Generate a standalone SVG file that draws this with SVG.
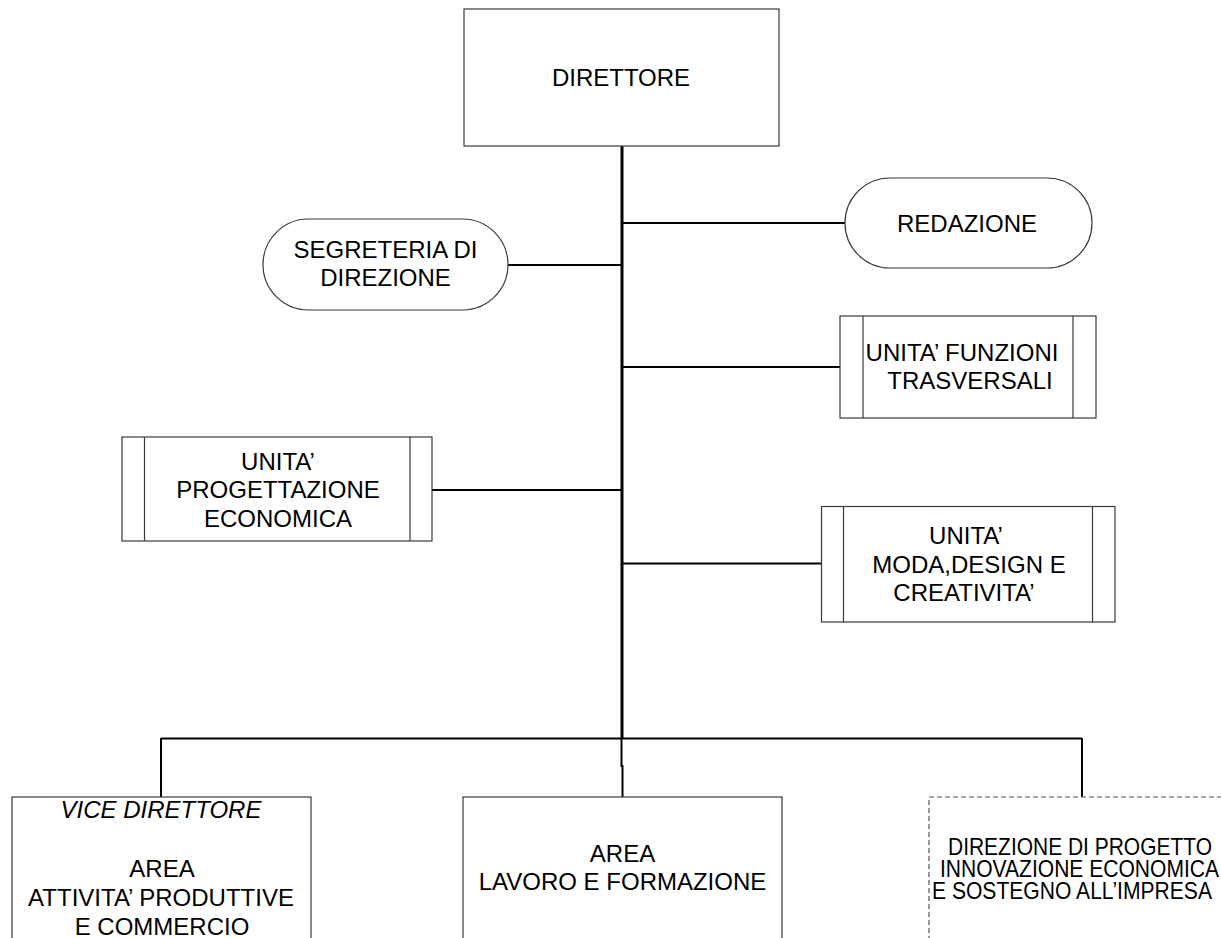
<svg xmlns="http://www.w3.org/2000/svg" width="1221" height="938" viewBox="0 0 1221 938">
<style>
  text { font-family: "Liberation Sans", Arial, sans-serif; font-size: 24px; fill: #000; }
  .c { text-anchor: middle; }
  .box { fill: #fff; stroke: #3a3a3a; stroke-width: 1.2; }
  .dash { fill: #fff; stroke: #555; stroke-width: 1.2; stroke-dasharray: 5 3; }
  .in { stroke: #3a3a3a; stroke-width: 1.2; fill: none; }
  .thin { stroke: #000; stroke-width: 2; fill: none; }
  .thick { stroke: #000; stroke-width: 3; fill: none; }
</style>
<rect width="1221" height="938" fill="#fff"/>

<g id="connectors">
  <line class="thick" x1="622" y1="146" x2="622" y2="739"/>
  <line class="thin" x1="508" y1="265" x2="622" y2="265"/>
  <line class="thin" x1="622" y1="223" x2="845" y2="223"/>
  <line class="thin" x1="622" y1="367" x2="840" y2="367"/>
  <line class="thin" x1="432" y1="490" x2="622" y2="490"/>
  <line class="thin" x1="622" y1="563.5" x2="821" y2="563.5"/>
  <line class="thin" x1="161" y1="738.5" x2="1082" y2="738.5"/>
  <line class="thin" x1="161" y1="738" x2="161" y2="797"/>
  <polyline class="thin" points="621.5,738 621.5,766 622.5,766 622.5,797"/>
  <line class="thin" x1="1082" y1="738" x2="1082" y2="797"/>
</g>

<g id="direttore">
  <rect class="box" x="464" y="9" width="315" height="137"/>
  <text class="c" x="621" y="86">DIRETTORE</text>
</g>

<g id="segreteria">
  <rect class="box" x="263" y="219" width="245" height="91" rx="45.5" ry="45.5"/>
  <text class="c" x="385.5" y="258">SEGRETERIA DI</text>
  <text class="c" x="385.5" y="286">DIREZIONE</text>
</g>

<g id="redazione">
  <rect class="box" x="845" y="178" width="247" height="90" rx="45" ry="45"/>
  <text class="c" x="967" y="231.5">REDAZIONE</text>
</g>

<g id="funzioni">
  <rect class="box" x="840" y="316" width="256" height="102"/>
  <line class="in" x1="863" y1="316" x2="863" y2="418"/>
  <line class="in" x1="1073" y1="316" x2="1073" y2="418"/>
  <text class="c" x="962" y="361">UNITA’ FUNZIONI</text>
  <text class="c" x="970" y="389">TRASVERSALI</text>
</g>

<g id="progettazione">
  <rect class="box" x="122" y="437" width="310" height="104"/>
  <line class="in" x1="144.5" y1="437" x2="144.5" y2="541"/>
  <line class="in" x1="410" y1="437" x2="410" y2="541"/>
  <text class="c" x="278" y="469.5">UNITA’</text>
  <text class="c" x="278" y="498">PROGETTAZIONE</text>
  <text class="c" x="278" y="526.5">ECONOMICA</text>
</g>

<g id="moda">
  <rect class="box" x="821.5" y="506.5" width="293.5" height="115.5"/>
  <line class="in" x1="843.5" y1="506.5" x2="843.5" y2="622"/>
  <line class="in" x1="1092.5" y1="506.5" x2="1092.5" y2="622"/>
  <text class="c" x="966" y="544">UNITA’</text>
  <text class="c" x="969" y="572.5">MODA,DESIGN E</text>
  <text class="c" x="964" y="600.5">CREATIVITA’</text>
</g>

<g id="vice-direttore">
  <rect class="box" x="12" y="797" width="299" height="160"/>
  <text class="c" x="161" y="818" font-style="italic">VICE DIRETTORE</text>
  <text class="c" x="162" y="876.5">AREA</text>
  <text class="c" x="161" y="906">ATTIVITA’ PRODUTTIVE</text>
  <text class="c" x="162" y="935">E COMMERCIO</text>
</g>

<g id="lavoro">
  <rect class="box" x="463" y="797" width="319" height="160"/>
  <text class="c" x="622.5" y="861.5">AREA</text>
  <text class="c" x="622.5" y="890">LAVORO E FORMAZIONE</text>
</g>

<g id="innovazione">
  <rect class="dash" x="929" y="797" width="320" height="160"/>
  <text x="948" y="855" font-size="22" textLength="264" lengthAdjust="spacingAndGlyphs">DIREZIONE DI PROGETTO</text>
  <text x="940" y="877" font-size="22" textLength="279" lengthAdjust="spacingAndGlyphs">INNOVAZIONE ECONOMICA</text>
  <text x="932" y="898.5" font-size="22" textLength="280" lengthAdjust="spacingAndGlyphs">E SOSTEGNO ALL’IMPRESA</text>
</g>
</svg>
